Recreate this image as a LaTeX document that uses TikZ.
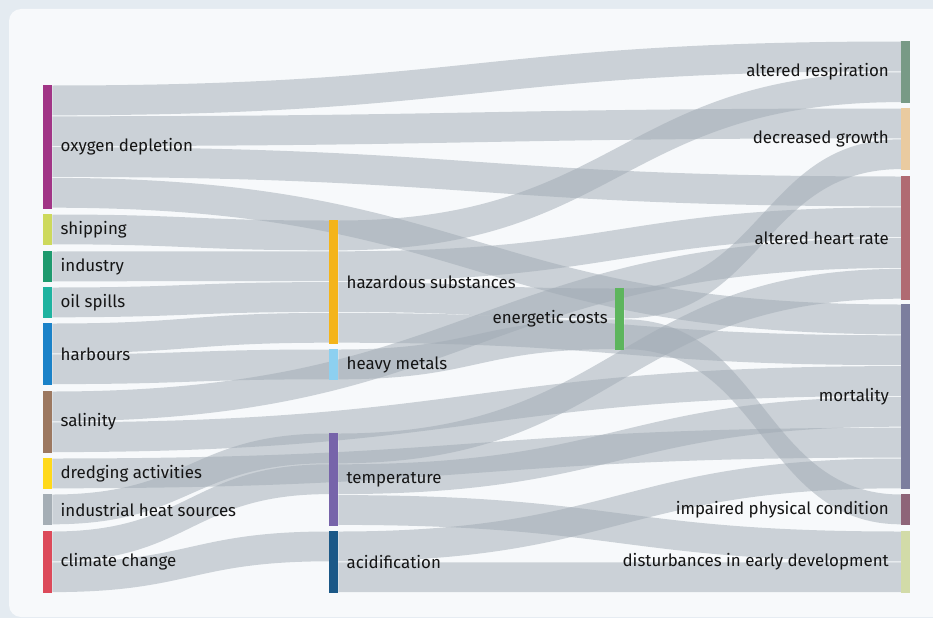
\documentclass[tikz,border=0pt]{standalone}
\usepackage{fontspec}
\setmainfont{Fira Sans}
\usetikzlibrary{positioning, calc}
\definecolor{mOuter}{HTML}{E4EBF1}
\definecolor{mPanel}{HTML}{F7F9FB}
\definecolor{mLink}{HTML}{A0AAB4}
\definecolor{mText}{HTML}{151515}
\definecolor{mOxygen}{HTML}{A13586}
\definecolor{mShipping}{HTML}{CDD95C}
\definecolor{mIndustry}{HTML}{1E9A6E}
\definecolor{mOil}{HTML}{1FB3A0}
\definecolor{mHarbour}{HTML}{1B82C8}
\definecolor{mSalinity}{HTML}{9C7860}
\definecolor{mDredging}{HTML}{FFD91A}
\definecolor{mHeat}{HTML}{A5AEB5}
\definecolor{mClimate}{HTML}{DC4A5A}
\definecolor{mHazard}{HTML}{F4B41A}
\definecolor{mMetals}{HTML}{8DD0F0}
\definecolor{mTemp}{HTML}{7764AA}
\definecolor{mAcid}{HTML}{1B5887}
\definecolor{mEnergy}{HTML}{5DB55D}
\definecolor{mResp}{HTML}{789A86}
\definecolor{mGrowth}{HTML}{EACBA0}
\definecolor{mHeart}{HTML}{B06A72}
\definecolor{mMort}{HTML}{7C7E9E}
\definecolor{mImpair}{HTML}{8E6478}
\definecolor{mDevel}{HTML}{D2DBA8}

\newcommand{\bandw}{30.8}
% band from source (slot #2) to target (slot #4)
\newcommand{\sankeylink}[4]{%
  \fill[flow] let \p1 = ($(#1.north east)+(0,-#2*\bandw pt)$),
                  \p2 = ($(#3.north west)+(0,-#4*\bandw pt)$) in
    (\x1,{\y1-0.5pt}) .. controls ({(\x1+\x2)/2},{\y1-0.5pt}) and ({(\x1+\x2)/2},{\y2-0.5pt}) .. (\x2,{\y2-0.5pt})
    -- (\x2,{\y2-\bandw pt+0.5pt}) .. controls ({(\x1+\x2)/2},{\y2-\bandw pt+0.5pt}) and ({(\x1+\x2)/2},{\y1-\bandw pt+0.5pt}) .. (\x1,{\y1-\bandw pt+0.5pt})
    -- cycle;
}

\begin{document}
\begin{tikzpicture}[
  x=1pt, y=-1pt,
  bar/.style={
    rectangle,
    draw=none,
    inner sep=0pt,
    minimum width=9pt,
    anchor=north west
  },
  flow/.style={
    fill=mLink,
    fill opacity=0.5
  },
  lbl/.style={
    inner sep=0pt,
    font=\fontsize{16.9}{19}\selectfont,
    text=mText
  }
]

\useasboundingbox (0,0) rectangle (933,618);
\fill[mOuter] (0,0) rectangle (933,618);
\begin{scope}
  \clip (0,0) rectangle (933,618);
  \fill[mPanel, rounded corners=12pt] (9,9) rectangle (960,617);
\end{scope}

% sources
\node[bar, fill=mOxygen, minimum height=4*\bandw pt] (oxy) at (43,85) {};
\node[bar, fill=mShipping, minimum height=\bandw pt] (ship) at (43,214) {};
\node[bar, fill=mIndustry, minimum height=\bandw pt] (ind) at (43,251) {};
\node[bar, fill=mOil, minimum height=\bandw pt] (oil) at (43,287) {};
\node[bar, fill=mHarbour, minimum height=2*\bandw pt] (harb) at (43,323) {};
\node[bar, fill=mSalinity, minimum height=2*\bandw pt] (sal) at (43,391) {};
\node[bar, fill=mDredging, minimum height=\bandw pt] (dredge) at (43,458) {};
\node[bar, fill=mHeat, minimum height=\bandw pt] (heat) at (43,494) {};
\node[bar, fill=mClimate, minimum height=2*\bandw pt] (clim) at (43,531) {};

% pressures
\node[bar, fill=mHazard, minimum height=4*\bandw pt] (haz) at (329,220) {};
\node[bar, fill=mMetals, minimum height=\bandw pt] (metals) at (329,349) {};
\node[bar, fill=mTemp, minimum height=3*\bandw pt] (temp) at (329,433) {};
\node[bar, fill=mAcid, minimum height=2*\bandw pt] (acid) at (329,531) {};
\node[bar, fill=mEnergy, minimum height=2*\bandw pt] (energy) at (615,288) {};

% effects
\node[bar, fill=mResp, minimum height=2*\bandw pt] (resp) at (901,41) {};
\node[bar, fill=mGrowth, minimum height=2*\bandw pt] (growth) at (901,108) {};
\node[bar, fill=mHeart, minimum height=4*\bandw pt] (heart) at (901,176) {};
\node[bar, fill=mMort, minimum height=6*\bandw pt] (mort) at (901,304) {};
\node[bar, fill=mImpair, minimum height=\bandw pt] (impair) at (901,494) {};
\node[bar, fill=mDevel, minimum height=2*\bandw pt] (devel) at (901,531) {};

% links
\sankeylink{oxy}{0}{resp}{0}
\sankeylink{oxy}{1}{growth}{0}
\sankeylink{oxy}{2}{heart}{0}
\sankeylink{oxy}{3}{mort}{0}
\sankeylink{ship}{0}{haz}{0}
\sankeylink{ind}{0}{haz}{1}
\sankeylink{oil}{0}{haz}{2}
\sankeylink{harb}{0}{haz}{3}
\sankeylink{harb}{1}{metals}{0}
\sankeylink{sal}{0}{heart}{2}
\sankeylink{sal}{1}{mort}{2}
\sankeylink{dredge}{0}{mort}{4}
\sankeylink{heat}{0}{temp}{0}
\sankeylink{clim}{0}{temp}{1}
\sankeylink{clim}{1}{acid}{0}
\sankeylink{haz}{0}{resp}{1}
\sankeylink{haz}{1}{heart}{1}
\sankeylink{haz}{2}{energy}{0}
\sankeylink{haz}{3}{mort}{1}
\sankeylink{metals}{0}{energy}{1}
\sankeylink{temp}{0}{heart}{3}
\sankeylink{temp}{1}{mort}{3}
\sankeylink{temp}{2}{devel}{0}
\sankeylink{acid}{0}{mort}{5}
\sankeylink{acid}{1}{devel}{1}
\sankeylink{energy}{0}{growth}{1}
\sankeylink{energy}{1}{impair}{0}

% redraw bars on top of the links
\foreach \n/\c in {oxy/mOxygen, ship/mShipping, ind/mIndustry, oil/mOil, harb/mHarbour,
    sal/mSalinity, dredge/mDredging, heat/mHeat, clim/mClimate, haz/mHazard, metals/mMetals,
    temp/mTemp, acid/mAcid, energy/mEnergy, resp/mResp, growth/mGrowth, heart/mHeart,
    mort/mMort, impair/mImpair, devel/mDevel}
  \fill[\c] (\n.north west) rectangle (\n.south east);

% labels
\node[lbl, right=8pt of oxy] (oxyL) {oxygen depletion};
\node[lbl, right=8pt of ship] (shipL) {shipping};
\node[lbl, right=8pt of ind] (indL) {industry};
\node[lbl, right=8pt of oil] (oilL) {oil spills};
\node[lbl, right=8pt of harb] (harbL) {harbours};
\node[lbl, right=8pt of sal] (salL) {salinity};
\node[lbl, right=8pt of dredge] (dredgeL) {dredging activities};
\node[lbl, right=8pt of heat] (heatL) {industrial heat sources};
\node[lbl, right=8pt of clim] (climL) {climate change};
\node[lbl, right=8pt of haz] (hazL) {hazardous substances};
\node[lbl, right=8pt of metals] (metalsL) {heavy metals};
\node[lbl, right=8pt of temp] (tempL) {temperature};
\node[lbl, right=8pt of acid] (acidL) {acidification};
\node[lbl, left=7pt of energy] (energyL) {energetic costs};
\node[lbl, left=12pt of resp] (respL) {altered respiration};
\node[lbl, left=12pt of growth] (growthL) {decreased growth};
\node[lbl, left=12pt of heart] (heartL) {altered heart rate};
\node[lbl, left=12pt of mort] (mortL) {mortality};
\node[lbl, left=12pt of impair] (impairL) {impaired physical condition};
\node[lbl, left=12pt of devel] (develL) {disturbances in early development};

\end{tikzpicture}
\end{document}
